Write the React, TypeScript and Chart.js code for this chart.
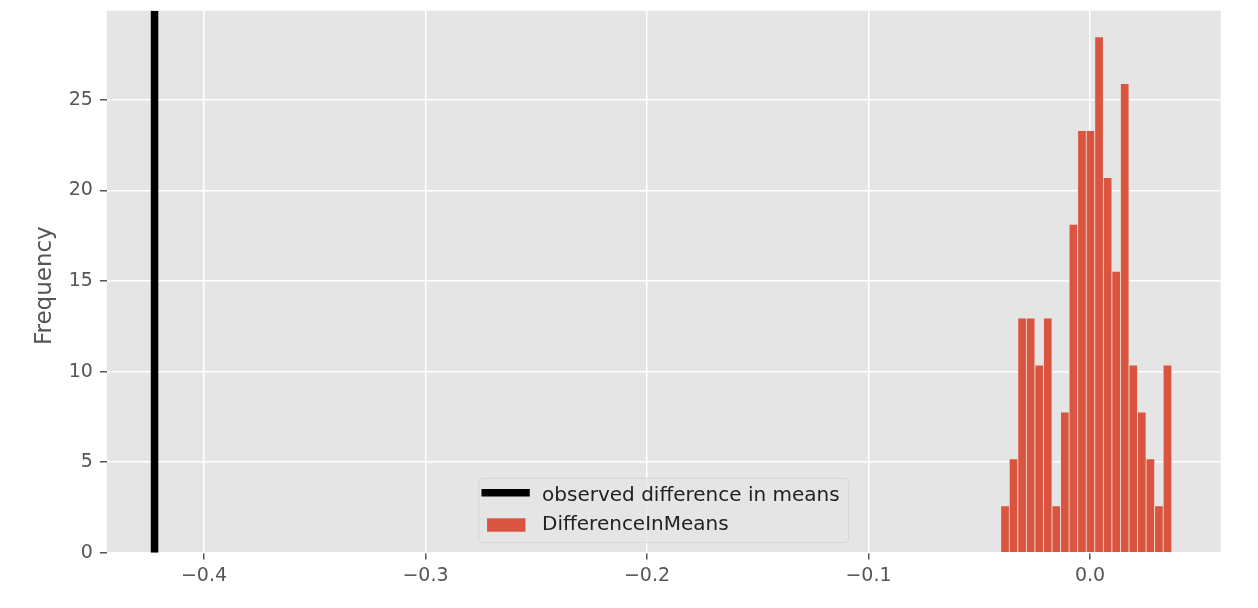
import { useEffect, useRef } from "react";
import { Chart, registerables } from "chart.js";

Chart.register(...registerables);

// ---- data ----
const binCenters = [
  -0.03837, -0.03451, -0.03065, -0.02679, -0.02293, -0.01907, -0.01521, -0.01135,
  -0.00749, -0.00363, 0.00023, 0.00409, 0.00795, 0.01181, 0.01567, 0.01953,
  0.02339, 0.02725, 0.03111, 0.03497,
];
const frequencies = [
  2.59, 5.18, 12.95, 12.95, 10.36, 12.95, 2.59, 7.77, 18.13, 23.31, 23.31, 28.49,
  20.72, 15.54, 25.9, 10.36, 7.77, 5.18, 2.59, 10.36,
];
const observedDifference = -0.4223;
const xTicks = [-0.4, -0.3, -0.2, -0.1, 0.0];
const yTicks = [0, 5, 10, 15, 20, 25];
const xRange = [-0.4439, 0.059];
const yRange = [0, 29.93];
const legendLabels = ["observed difference in means", "DifferenceInMeans"];
const yAxisLabel = "Frequency";

const FONT = '"DejaVu Sans", "Liberation Sans", sans-serif';
const BAR_COLOR = "#DA5540";
const LINE_COLOR = "#000000";

const decorPlugin = {
  id: "decor",
  beforeDraw(chart: any) {
    const { ctx, chartArea: a } = chart;
    ctx.save();
    ctx.fillStyle = "#E5E5E5";
    ctx.fillRect(a.left, a.top, a.right - a.left, a.bottom - a.top);
    ctx.restore();
  },
  afterDraw(chart: any) {
    const { ctx, chartArea: a } = chart;
    // y-axis title
    ctx.save();
    ctx.translate(45.5, (a.top + a.bottom) / 2 + 4);
    ctx.rotate(-Math.PI / 2);
    ctx.font = `23px ${FONT}`;
    ctx.fillStyle = "#555555";
    ctx.textAlign = "center";
    ctx.textBaseline = "middle";
    ctx.fillText(yAxisLabel, 0, 0);
    ctx.restore();

    // legend (lower center)
    ctx.save();
    ctx.font = `20px ${FONT}`;
    const textW = Math.max(...legendLabels.map((l) => ctx.measureText(l).width));
    const boxW = 63.3 + textW + 9;
    const boxH = 64.4;
    const cx = (a.left + a.right) / 2;
    const left = cx - boxW / 2;
    const top = a.bottom - 10 - boxH;
    ctx.beginPath();
    if ((ctx as any).roundRect) (ctx as any).roundRect(left, top, boxW, boxH, 4);
    else ctx.rect(left, top, boxW, boxH);
    ctx.fillStyle = "rgba(229,229,229,0.8)";
    ctx.fill();
    ctx.lineWidth = 1;
    ctx.strokeStyle = "rgba(204,204,204,0.6)";
    ctx.stroke();

    // row 1: line handle
    ctx.beginPath();
    ctx.moveTo(left + 2.7, top + 14.4);
    ctx.lineTo(left + 51, top + 14.4);
    ctx.lineWidth = 7.5;
    ctx.lineCap = "butt";
    ctx.strokeStyle = LINE_COLOR;
    ctx.stroke();
    // row 2: patch handle
    ctx.fillStyle = BAR_COLOR;
    ctx.fillRect(left + 8.3, top + 40, 38.4, 13.4);

    ctx.fillStyle = "#222222";
    ctx.textAlign = "left";
    ctx.textBaseline = "alphabetic";
    ctx.fillText(legendLabels[0], left + 63.3, top + 22.5);
    ctx.fillText(legendLabels[1], left + 63.3, top + 52);
    ctx.restore();
  },
};

const fmtX = (v: number) => {
  const s = Math.abs(v) < 1e-9 ? "0.0" : v.toFixed(1);
  return s.replace("-", "\u2212");
};

export default function App() {
  const ref = useRef<HTMLCanvasElement | null>(null);

  useEffect(() => {
    if (!ref.current) return;
    const chart = new Chart(ref.current, {
      type: "bar",
      data: {
        datasets: [
          {
            type: "line",
            label: legendLabels[0],
            data: [
              { x: observedDifference, y: yRange[0] },
              { x: observedDifference, y: yRange[1] },
            ],
            borderColor: LINE_COLOR,
            borderWidth: 7.5,
            pointRadius: 0,
            clip: 0,
            order: 1,
          } as any,
          {
            type: "bar",
            label: legendLabels[1],
            data: binCenters.map((x, i) => ({ x, y: frequencies[i] })),
            backgroundColor: BAR_COLOR,
            borderColor: "#F0E0DC",
            borderWidth: 0.75,
            borderSkipped: "start",
            barPercentage: 1,
            categoryPercentage: 1,
            order: 2,
          } as any,
        ],
      },
      options: {
        responsive: false,
        animation: false,
        devicePixelRatio: 1,
        layout: { padding: { top: 10.7, right: 37.3, left: 0, bottom: 0 } },
        plugins: {
          legend: { display: false },
          tooltip: { enabled: false },
        },
        scales: {
          x: {
            type: "linear",
            min: xRange[0],
            max: xRange[1],
            offset: false,
            grid: {
              offset: false,
              color: "#FFFFFF",
              lineWidth: 1.5,
              tickColor: "#555555",
              tickLength: 6.8,
              tickWidth: 1.5,
              drawTicks: true,
            },
            border: { display: false },
            ticks: {
              color: "#555555",
              font: { size: 19, family: FONT },
              padding: 5,
              maxRotation: 0,
              autoSkip: false,
              callback: (v: any) => fmtX(Number(v)),
            },
            afterBuildTicks: (s: any) => {
              s.ticks = xTicks.map((v) => ({ value: v }));
            },
            afterFit: (s: any) => {
              s.height = 55.3;
              s.paddingLeft = 0;
              s.paddingRight = 0;
            },
          },
          y: {
            type: "linear",
            min: yRange[0],
            max: yRange[1],
            grid: {
              color: "#FFFFFF",
              lineWidth: 1.5,
              tickColor: "#555555",
              tickLength: 6.8,
              tickWidth: 1.5,
              drawTicks: true,
            },
            border: { display: false },
            ticks: {
              color: "#555555",
              font: { size: 19, family: FONT },
              padding: 7,
              autoSkip: false,
              callback: (v: any) => String(v),
            },
            afterBuildTicks: (s: any) => {
              s.ticks = yTicks.map((v) => ({ value: v }));
            },
            afterFit: (s: any) => {
              s.width = 106.7;
              s.paddingTop = 0;
              s.paddingBottom = 0;
            },
          },
        },
      } as any,
      plugins: [decorPlugin],
    });
    return () => chart.destroy();
  }, []);

  return (
    <div style={{ position: "absolute", left: 0, top: 0, width: 1258, height: 608, background: "#fff" }}>
      <canvas ref={ref} width={1258} height={608} style={{ display: "block" }} />
    </div>
  );
}
